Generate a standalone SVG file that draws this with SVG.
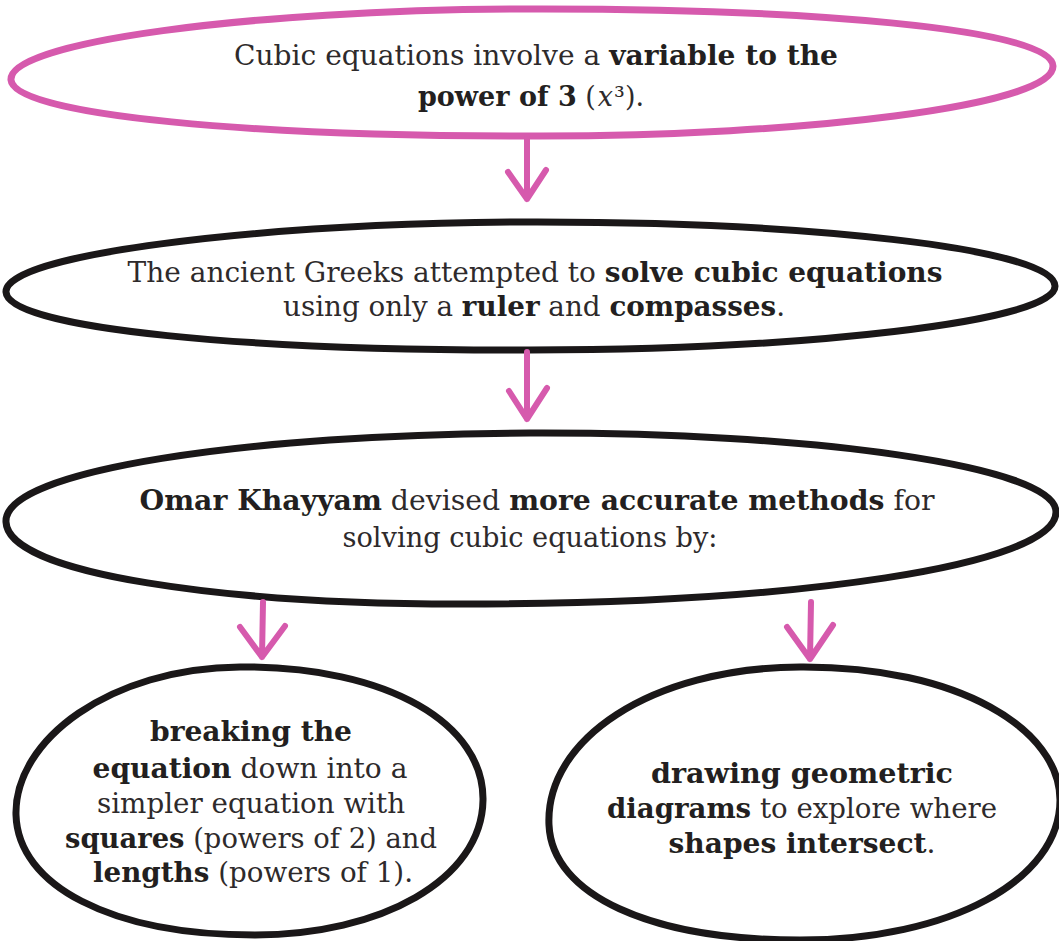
<svg xmlns="http://www.w3.org/2000/svg" width="1059" height="941" viewBox="0 0 1059 941">
<style>
.t{font-family:"DejaVu Serif","Liberation Serif",serif;font-size:27px;fill:#231f20;text-anchor:middle;}
.b{font-weight:bold;}
.r{font-weight:300;fill:#2e2a2b;}
.pk{fill:none;stroke:#d65aad;stroke-width:6;stroke-linecap:round;stroke-linejoin:round;}
.bk{fill:#fff;stroke:#1a1718;stroke-width:7;stroke-linejoin:round;}
.pko{fill:#fff;stroke:#d65aad;stroke-width:7;stroke-linejoin:round;}
</style>
<rect width="1059" height="941" fill="#fff"/>
<g id="n1">
<path class="pko" d="M11,80 C8,42 250,10 520,9 C800,8 1052,28 1053,66 C1054,106 800,136 540,136 C260,137 14,116 11,80 Z"/>
<text class="t" x="536" y="65" textLength="604" lengthAdjust="spacingAndGlyphs"><tspan class="r">Cubic equations involve a </tspan><tspan class="b">variable to the</tspan></text>
<text class="t" x="531" y="106"><tspan class="b">power of 3</tspan><tspan class="r"> (</tspan><tspan class="r" font-style="italic" dx="2">x</tspan><tspan class="r" dx="1">³).</tspan></text>
</g>
<g id="n2">
<path class="bk" d="M6,292 C4,255 250,224 520,222 C800,221 1054,248 1055,286 C1056,322 800,350 530,350 C260,351 8,330 6,292 Z"/>
<text class="t" x="535" y="282" textLength="815" lengthAdjust="spacingAndGlyphs"><tspan class="r">The ancient Greeks attempted to </tspan><tspan class="b">solve cubic equations</tspan></text>
<text class="t" x="534" y="316" textLength="502" lengthAdjust="spacingAndGlyphs"><tspan class="r">using only a </tspan><tspan class="b">ruler</tspan><tspan class="r"> and </tspan><tspan class="b">compasses</tspan><tspan class="r">.</tspan></text>
</g>
<g id="n3">
<path class="bk" d="M6,522 C3,470 250,434 530,433 C810,432 1056,466 1056,512 C1056,565 800,604 460,604 C230,604 8,575 6,522 Z"/>
<text class="t" x="537" y="510" textLength="795" lengthAdjust="spacingAndGlyphs"><tspan class="b">Omar Khayyam</tspan><tspan class="r"> devised </tspan><tspan class="b">more accurate methods</tspan><tspan class="r"> for</tspan></text>
<text class="t r" x="530" y="547" textLength="375" lengthAdjust="spacingAndGlyphs">solving cubic equations by:</text>
</g>
<g id="n4">
<path class="bk" d="M16,815 C14,740 110,668 240,667 C390,666 484,725 483,800 C482,880 380,935 255,935 C110,935 18,885 16,815 Z"/>
<text class="t b" x="251" y="741" textLength="202" lengthAdjust="spacingAndGlyphs">breaking the</text>
<text class="t" x="250" y="778" textLength="315" lengthAdjust="spacingAndGlyphs"><tspan class="b">equation</tspan><tspan class="r"> down into a</tspan></text>
<text class="t r" x="251" y="813" textLength="308" lengthAdjust="spacingAndGlyphs">simpler equation with</text>
<text class="t" x="251" y="848" textLength="372" lengthAdjust="spacingAndGlyphs"><tspan class="b">squares</tspan><tspan class="r"> (powers of 2) and</tspan></text>
<text class="t" x="253" y="882" textLength="320" lengthAdjust="spacingAndGlyphs"><tspan class="b">lengths</tspan><tspan class="r"> (powers of 1).</tspan></text>
</g>
<g id="n5">
<path class="bk" d="M549,825 C545,740 650,668 800,667 C960,666 1060,730 1060,800 C1060,880 950,940 800,940 C650,940 552,895 549,825 Z"/>
<text class="t b" x="802" y="783" textLength="302" lengthAdjust="spacingAndGlyphs">drawing geometric</text>
<text class="t" x="802" y="818" textLength="390" lengthAdjust="spacingAndGlyphs"><tspan class="b">diagrams</tspan><tspan class="r"> to explore where</tspan></text>
<text class="t" x="802" y="853" textLength="267" lengthAdjust="spacingAndGlyphs"><tspan class="b">shapes intersect</tspan><tspan class="r">.</tspan></text>
</g>
<g id="connectors">
<path class="pk" d="M527,139 L527,199 M508,172 L527,199 L546,170"/>
<path class="pk" d="M527,352 L527,419 M509,391 L527,419 L547,388"/>
<path class="pk" d="M263,602 L262,657 M240,627 L262,657 L285,626"/>
<path class="pk" d="M811,602 L810,659 M787,627 L810,659 L833,625"/>
</g>
</svg>
